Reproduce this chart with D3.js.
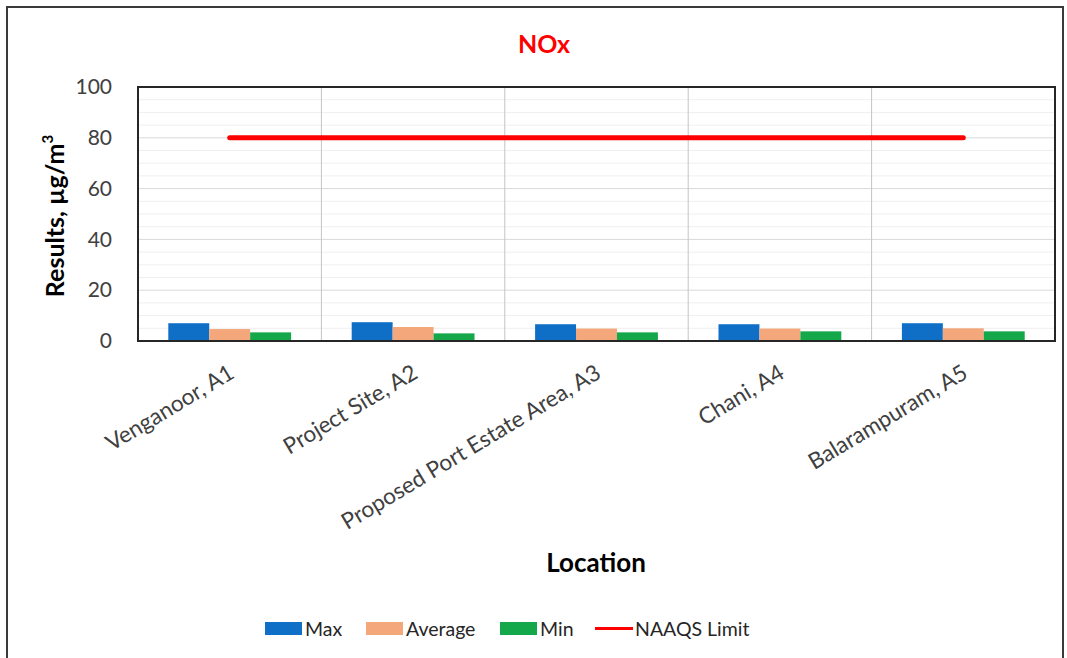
<!DOCTYPE html>
<html><head><meta charset="utf-8">
<script src="https://cdn.jsdelivr.net/npm/d3@7"></script>
<style>
html,body{margin:0;padding:0;background:#fff;}
svg{display:block;}
text{font-family:Lato,"Open Sans",sans-serif;}
</style></head>
<body>
<svg id="chart" width="1067" height="658"></svg>
<script>
const categories = ["Venganoor, A1","Project Site, A2","Proposed Port Estate Area, A3","Chani, A4","Balarampuram, A5"];
const seriesNames = ["Max","Average","Min"];
const maxValues = [7.0, 7.4, 6.6, 6.6, 7.0];
const avgValues = [4.7, 5.5, 4.9, 4.9, 5.0];
const minValues = [3.4, 3.0, 3.4, 3.8, 3.8];
const limitValues = [80, 80, 80, 80, 80];
const yTicks = [0, 20, 40, 60, 80, 100];
const minorTicks = d3.range(0, 101, 5);
const colors = {Max:"#0f6fc6", Average:"#f4a77a", Min:"#14a84b", limit:"#ff0000"};

const svg = d3.select("#chart");
const M = {left:138, right:1055, top:87, bottom:341};

// outer frame
svg.append("rect").attr("x",7).attr("y",7).attr("width",1056).attr("height",700)
  .attr("fill","#fff").attr("stroke","#3a3a3a").attr("stroke-width",2);

const x0 = d3.scaleBand().domain(categories).range([M.left, M.right]).paddingInner(0).paddingOuter(0);
const x1 = d3.scaleBand().domain(seriesNames).range([0, x0.bandwidth()]).paddingInner(0).paddingOuter(0.74);
const y = d3.scaleLinear().domain([0,100]).range([M.bottom, M.top]);

// minor grid
svg.append("g").selectAll("line").data(minorTicks.filter(d=>d%20!==0)).join("line")
  .attr("x1",M.left).attr("x2",M.right).attr("y1",d=>y(d)).attr("y2",d=>y(d))
  .attr("stroke","#efefef").attr("stroke-width",1);
// major grid
svg.append("g").selectAll("line").data(yTicks).join("line")
  .attr("x1",M.left).attr("x2",M.right).attr("y1",d=>y(d)).attr("y2",d=>y(d))
  .attr("stroke","#d9d9d9").attr("stroke-width",1);
// vertical category separators
svg.append("g").selectAll("line").data(categories.slice(1)).join("line")
  .attr("x1",d=>x0(d)).attr("x2",d=>x0(d)).attr("y1",M.top).attr("y2",M.bottom)
  .attr("stroke","#c4c4c4").attr("stroke-width",1);

// bars
const seriesData = {Max:maxValues, Average:avgValues, Min:minValues};
const bars = svg.append("g");
seriesNames.forEach(s=>{
  bars.selectAll(null).data(categories).join("rect")
    .attr("x",c=>x0(c)+x1(s)).attr("width",x1.bandwidth())
    .attr("y",(c,i)=>y(seriesData[s][i])).attr("height",(c,i)=>y(0)-y(seriesData[s][i]))
    .attr("fill",colors[s]);
});

// limit line
const line = d3.line().x((d,i)=>x0(categories[i])+x0.bandwidth()/2).y(d=>y(d));
svg.append("path").datum(limitValues).attr("d",line).attr("fill","none")
  .attr("stroke",colors.limit).attr("stroke-width",5).attr("stroke-linecap","round");

// plot border
svg.append("rect").attr("x",M.left).attr("y",M.top).attr("width",M.right-M.left).attr("height",M.bottom-M.top)
  .attr("fill","none").attr("stroke","#262626").attr("stroke-width",2);

// y axis
const yAxis = svg.append("g").attr("transform",`translate(${M.left},0)`)
  .call(d3.axisLeft(y).tickValues(yTicks).tickSize(0).tickPadding(26));
yAxis.select(".domain").remove();
yAxis.selectAll("text").attr("font-size",21).attr("fill","#404040").attr("font-family","Lato, sans-serif");

// x axis labels
const xAxis = svg.append("g").attr("transform",`translate(0,${M.bottom})`)
  .call(d3.axisBottom(x0).tickSize(0).tickPadding(0));
xAxis.select(".domain").remove();
xAxis.selectAll("text").attr("font-size",22.5).attr("fill","#404040").attr("font-family","Lato, sans-serif")
  .attr("text-anchor","end").attr("dy",0)
  .attr("transform","translate(6,36) rotate(-31)");

// title
svg.append("text").attr("x",544).attr("y",53).attr("text-anchor","middle")
  .attr("font-size",25).attr("font-weight","bold").attr("fill","#ff0000").text("NOx");

// axis titles
svg.append("text").attr("transform","translate(64,216) rotate(-90)").attr("text-anchor","middle")
  .attr("font-size",25).attr("font-weight","bold").attr("fill","#000")
  .text("Results, µg/m").append("tspan").attr("font-size",15).attr("dy",-11).text("3");
svg.append("text").attr("x",596).attr("y",572).attr("text-anchor","middle")
  .attr("font-size",26).attr("font-weight","bold").attr("fill","#000").text("Location");

// legend
const legendItems = [
  {name:"Max", type:"rect", color:colors.Max, x:265},
  {name:"Average", type:"rect", color:colors.Average, x:366},
  {name:"Min", type:"rect", color:colors.Min, x:500},
  {name:"NAAQS Limit", type:"line", color:colors.limit, x:595}
];
const lg = svg.append("g");
legendItems.forEach(it=>{
  if(it.type==="rect"){
    lg.append("rect").attr("x",it.x).attr("y",622).attr("width",37).attr("height",13).attr("fill",it.color);
  } else {
    lg.append("line").attr("x1",it.x).attr("x2",it.x+38).attr("y1",628.5).attr("y2",628.5)
      .attr("stroke",it.color).attr("stroke-width",3);
  }
  lg.append("text").attr("x",it.x+40).attr("y",636).attr("font-size",19.5).attr("fill","#262626").text(it.name);
});
</script>
</body></html>
